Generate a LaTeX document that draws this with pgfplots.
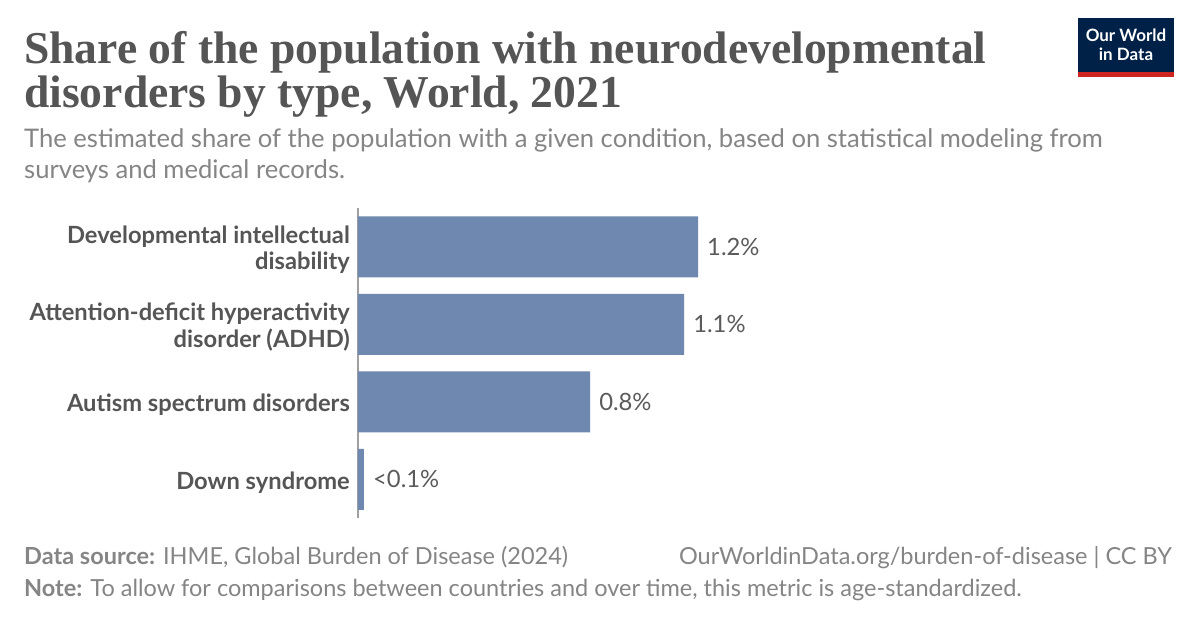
\documentclass[border=0pt]{standalone}
\usepackage{fontspec}
\setmainfont{Lato}
\newfontfamily\titlefont{Liberation Serif}
\usepackage{pgfplots}
\pgfplotsset{compat=1.18}
\definecolor{barblue}{HTML}{6F88B0}
\definecolor{titlegray}{HTML}{555555}
\definecolor{subgray}{HTML}{858585}
\definecolor{labgray}{HTML}{555555}
\definecolor{valgray}{HTML}{5B5B5B}
\definecolor{axisgray}{HTML}{A0A0A0}
\definecolor{owidblue}{HTML}{002147}
\definecolor{owidred}{HTML}{CE261E}
\begin{document}
\begin{tikzpicture}
\path[fill=white] (0pt,0pt) rectangle (1200pt,-628pt);
% title
\node[anchor=base west, inner sep=0pt, text=titlegray, font=\titlefont\bfseries\fontsize{45.6}{50}\selectfont] at (24pt,-64pt) {Share of the population with neurodevelopmental};
\node[anchor=base west, inner sep=0pt, text=titlegray, font=\titlefont\bfseries\fontsize{45.6}{50}\selectfont] at (24pt,-108pt) {disorders by type, World, 2021};
% subtitle
\node[anchor=base west, inner sep=0pt, text=subgray, font=\fontsize{25.6}{31}\selectfont] at (24pt,-148pt) {The estimated share of the population with a given condition, based on statistical modeling from};
\node[anchor=base west, inner sep=0pt, text=subgray, font=\fontsize{25.6}{31}\selectfont] at (24pt,-179pt) {surveys and medical records.};
% logo
\fill[owidblue] (1078pt,-18pt) rectangle (1174pt,-72pt);
\fill[owidred] (1078pt,-72pt) rectangle (1174pt,-77pt);
\node[align=center, text=white, inner sep=0pt, font=\bfseries\fontsize{17}{18.5}\selectfont] at (1126pt,-45pt) {Our World\\in Data};
% chart
\begin{axis}[
  at={(358pt,-518pt)}, anchor=south west,
  scale only axis, width=500pt, height=310pt,
  xmin=0, xmax=1.7647, ymin=-0.5, ymax=3.5,
  y dir=reverse,
  xbar, bar width=61pt,
  hide x axis,
  axis y line*=left,
  y axis line style={axisgray, line width=2pt, -},
  ytick={0,1,2,3},
  yticklabels={{Developmental intellectual\\disability},{Attention-deficit hyperactivity\\disorder (ADHD)},{Autism spectrum disorders},{Down syndrome}},
  major tick length=0pt,
  yticklabel style={font=\bfseries\fontsize{23.7}{26.5}\selectfont, align=right, text=labgray, inner sep=0pt, xshift=-8pt, yshift=-3pt},
  nodes near coords,
  point meta=explicit symbolic,
  nodes near coords style={anchor=west, inner sep=0pt, xshift=9pt, text=valgray, font=\fontsize{23.8}{28}\selectfont},
  clip=false,
]
\addplot[fill=barblue, draw=none] coordinates {(1.2,0) [1.2\%] (1.151,1) [1.1\%] (0.819,2) [0.8\%] (0.021,3) [<0.1\%]};
\end{axis}
% footer
\node[anchor=base west, inner sep=0pt, text=subgray, font=\fontsize{23.5}{28}\selectfont] at (24pt,-564pt) {\textbf{Data source:} IHME, Global Burden of Disease (2024)};
\node[anchor=base east, inner sep=0pt, text=subgray, font=\fontsize{23.5}{28}\selectfont] at (1172pt,-564pt) {OurWorldinData.org/burden-of-disease | CC BY};
\node[anchor=base west, inner sep=0pt, text=subgray, font=\fontsize{23.5}{28}\selectfont] at (24pt,-596pt) {\textbf{Note:} To allow for comparisons between countries and over time, this metric is age-standardized.};
\end{tikzpicture}
\end{document}
